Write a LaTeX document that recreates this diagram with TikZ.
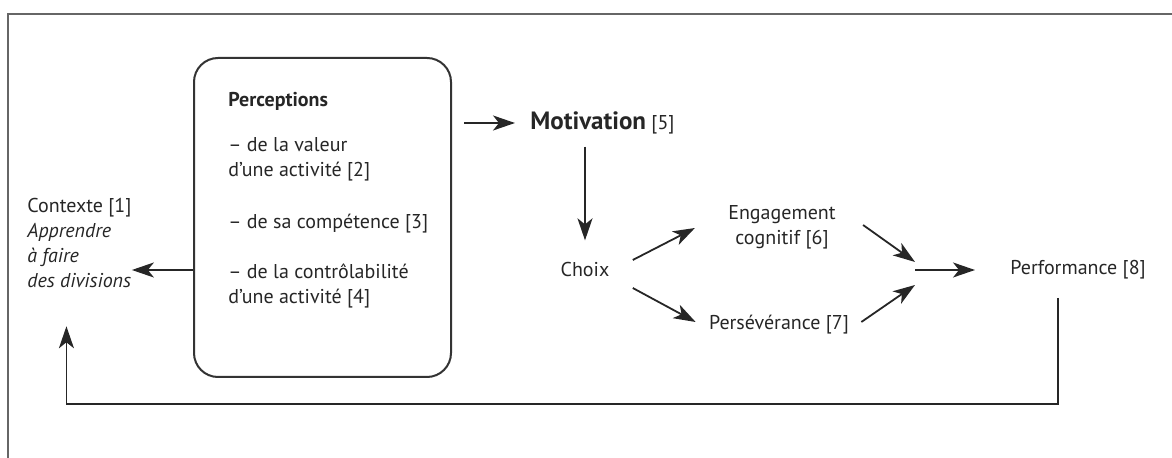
\documentclass[tikz,border=0pt]{standalone}
\usepackage{fontspec}
\setmainfont{PT Sans}
\usepackage{xcolor}
\usepackage{tikz}
\usetikzlibrary{arrows.meta, positioning}
\tikzset{
  label/.style={
    inner sep=0pt, align=left, text=black!85,
    font=\fontsize{10}{12.5}\selectfont
  },
  percframe/.style={
    rectangle, rounded corners=12pt, draw=black!80, line width=1pt,
    minimum width=128.5pt, minimum height=159.5pt, inner sep=0pt
  },
  outerframe/.style={draw=black!60, line width=1.2pt},
  arrow/.style={-{Stealth[length=11pt, width=7.5pt, inset=3pt]}, line width=0.9pt, black!85}
}

\begin{document}
\begin{tikzpicture}[x=0.5pt, y=-0.5pt]

  \useasboundingbox (0,0) rectangle (1172,458);
  \draw[outerframe] (8,458) -- (8,14) -- (1172,14);

  % left column
  \node[label, anchor=north west] (ctx) at (27,198)
        {Contexte [1]\\ \textit{Apprendre}\\ \textit{à faire}\\ \textit{des divisions}};

  \node[percframe, anchor=north west] (percbox) at (193,57) {};
  \node[label, anchor=north west] (perctext) at (228,92)
        {\textbf{Perceptions}\\[10pt]
         – de la valeur\\ d’une activité [2]\\[13.5pt]
         – de sa compétence [3]\\[12.5pt]
         – de la contrôlabilité\\ d’une activité [4]};

  % motivation and its outcomes
  \node[label, anchor=west] (motiv) at (530,123)
        {{\fontsize{12.5}{14}\selectfont\bfseries Motivation} [5]};
  \node[label] (choix)  at (585,270) {Choix};
  \node[label, align=center] (engag) at (782,227) {Engagement\\ cognitif [6]};
  \node[label] (persev) at (779,325) {Persévérance [7]};
  \node[label, anchor=west] (perf) at (1010,270) {Performance [8]};
  \coordinate (merge) at (915,273);

  \draw[arrow] (percbox.west |- 0,270) -- (ctx.east |- 0,270);
  \draw[arrow, shorten <=6pt, shorten >=7.5pt] (percbox.east |- motiv.west) -- (motiv.west);
  \draw[arrow, shorten <=6pt, shorten >=11pt] (choix.north |- motiv.south) -- (choix.north);
  \draw[arrow] ([shift={(23,-10)}]choix.east) -- ([shift={(-33,1)}]engag.west);
  \draw[arrow] ([shift={(23,18)}]choix.east)  -- ([shift={(-13,-3)}]persev.west);
  \draw[arrow] ([shift={(27,-2)}]engag.east)  -- ([yshift=5.5pt]merge);
  \draw[arrow] ([shift={(12,-3)}]persev.east) -- ([yshift=-6pt]merge);
  \draw[arrow, shorten >=17.5pt] (merge |- perf.west) -- (perf.west);

  % feedback loop
  \draw[arrow] ([shift={(-20,18)}]perf.south) -- ++(0,106)
        -| ([shift={(-13,38)}]ctx.south);

\end{tikzpicture}
\end{document}
